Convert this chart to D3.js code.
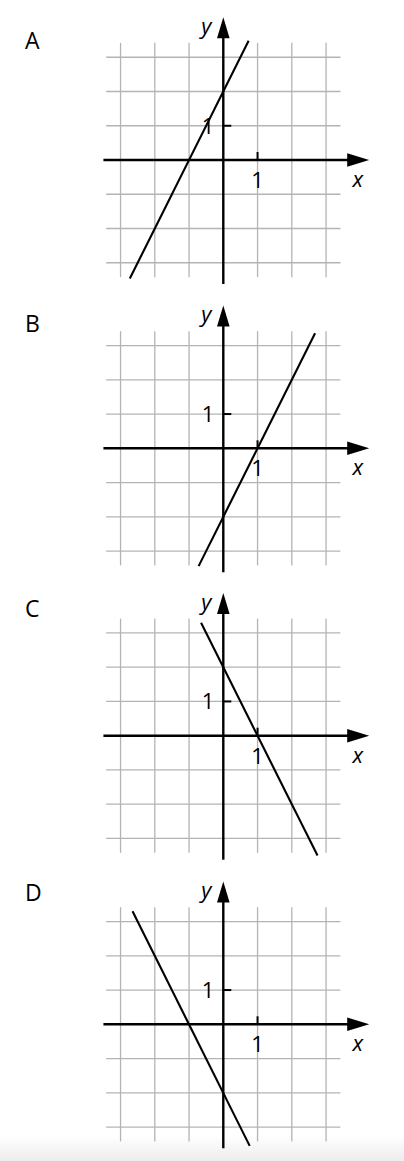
<!DOCTYPE html>
<html>
<head>
<meta charset="utf-8">
<script src="https://cdnjs.cloudflare.com/ajax/libs/d3/7.8.5/d3.min.js"></script>
<style>
	html, body { margin: 0; padding: 0; background: #fff; }
	svg { display: block; }
	.lbl { font-family: "Open Sans", Lato, sans-serif; fill: #000; font-weight: 500; }
</style>
</head>
<body>
<div id="chart"></div>
<script>

// panel letters
var panels = ["A", "B", "C", "D"];

// grid values along each axis
var gridVals = [-3, -2, -1, 0, 1, 2, 3];

// tick labels at 1 on both axes
var tickVals = [1];
var tickLabels = ["1"];

// line endpoints for each panel [x, y]
var lineA = [[-2.73, -3.46], [0.74, 3.48]];
var lineB = [[-0.72, -3.44], [2.68, 3.36]];
var lineC = [[-0.65, 3.30], [2.75, -3.50]];
var lineD = [[-2.65, 3.30], [0.77, -3.55]];
var lines = [lineA, lineB, lineC, lineD];

// layout
var W = 404, H = 1161;
var unit = 34.25;
var ox = 223.3;
var originY = [160, 448.3, 735.7, 1024.3];
var letterY = [49, 332, 617, 901];

var svg = d3.select("#chart").append("svg")
	.attr("width", W)
	.attr("height", H);

// faint shade at the bottom edge
var grad = svg.append("defs").append("linearGradient")
	.attr("id", "shade").attr("x1", 0).attr("y1", 0).attr("x2", 0).attr("y2", 1);
grad.append("stop").attr("offset", "0%").attr("stop-color", "#ffffff");
grad.append("stop").attr("offset", "100%").attr("stop-color", "#ececec");
svg.append("rect").attr("x", 0).attr("y", 1136).attr("width", W).attr("height", H - 1136)
	.attr("fill", "url(#shade)");

panels.forEach(function(name, i) {
	var oy = originY[i];
	var x = d3.scaleLinear().domain([0, 1]).range([ox, ox + unit]);
	var y = d3.scaleLinear().domain([0, 1]).range([oy, oy - unit]);
	var g = svg.append("g");

	// letter
	g.append("text").attr("class", "lbl")
		.attr("x", 25).attr("y", letterY[i])
		.style("font-size", "23px")
		.text(name);

	// grid
	var ext = 3.42;
	g.selectAll(".vg").data(gridVals).enter().append("line")
		.attr("x1", function(d) { return x(d); })
		.attr("x2", function(d) { return x(d); })
		.attr("y1", y(ext)).attr("y2", y(-ext))
		.attr("stroke", "#b4b4b4").attr("stroke-width", 1.3);
	g.selectAll(".hg").data(gridVals).enter().append("line")
		.attr("y1", function(d) { return y(d); })
		.attr("y2", function(d) { return y(d); })
		.attr("x1", x(-ext)).attr("x2", x(ext))
		.attr("stroke", "#b4b4b4").attr("stroke-width", 1.3);

	// axes
	g.append("line")
		.attr("x1", x(-3.5)).attr("x2", x(3.8))
		.attr("y1", y(0)).attr("y2", y(0))
		.attr("stroke", "#000").attr("stroke-width", 2.4);
	g.append("line")
		.attr("x1", x(0)).attr("x2", x(0))
		.attr("y1", y(-3.62)).attr("y2", y(3.7))
		.attr("stroke", "#000").attr("stroke-width", 2.4);

	// arrow heads
	var tipX = x(4.26), tipY = y(4.17);
	g.append("path")
		.attr("d", "M" + tipX + "," + y(0) + "L" + (tipX - 22) + "," + (y(0) - 6.8) +
			"L" + (tipX - 22) + "," + (y(0) + 6.8) + "Z")
		.attr("fill", "#000");
	g.append("path")
		.attr("d", "M" + x(0) + "," + tipY + "L" + (x(0) - 6.3) + "," + (tipY + 21) +
			"L" + (x(0) + 6.3) + "," + (tipY + 21) + "Z")
		.attr("fill", "#000");

	// ticks
	g.selectAll(".xt").data(tickVals).enter().append("line")
		.attr("x1", function(d) { return x(d); })
		.attr("x2", function(d) { return x(d); })
		.attr("y1", y(0) - 8).attr("y2", y(0))
		.attr("stroke", "#000").attr("stroke-width", 2);
	g.selectAll(".yt").data(tickVals).enter().append("line")
		.attr("y1", function(d) { return y(d); })
		.attr("y2", function(d) { return y(d); })
		.attr("x1", x(0)).attr("x2", x(0) + 8)
		.attr("stroke", "#000").attr("stroke-width", 2);

	// tick labels
	g.selectAll(".xl").data(tickVals).enter().append("text").attr("class", "lbl")
		.attr("x", function(d) { return x(d); })
		.attr("y", y(0) + 28)
		.attr("text-anchor", "middle")
		.style("font-size", "22px")
		.text(function(d, k) { return tickLabels[k]; });
	g.selectAll(".yl").data(tickVals).enter().append("text").attr("class", "lbl")
		.attr("x", x(0) - 9)
		.attr("y", function(d) { return y(d) + 8; })
		.attr("text-anchor", "end")
		.style("font-size", "22px")
		.text(function(d, k) { return tickLabels[k]; });

	// axis names
	g.append("text").attr("class", "lbl")
		.attr("x", x(0) - 17).attr("y", y(0) - 126)
		.attr("text-anchor", "middle")
		.style("font-size", "22px").style("font-style", "italic")
		.text("y");
	g.append("text").attr("class", "lbl")
		.attr("x", x(3.93)).attr("y", y(0) + 27)
		.attr("text-anchor", "middle")
		.style("font-size", "22px").style("font-style", "italic")
		.text("x");

	// the line
	g.append("path")
		.datum(lines[i])
		.attr("d", d3.line().x(function(d) { return x(d[0]); }).y(function(d) { return y(d[1]); }))
		.attr("fill", "none")
		.attr("stroke", "#000")
		.attr("stroke-width", 2.1);
});

</script>
</body>
</html>
